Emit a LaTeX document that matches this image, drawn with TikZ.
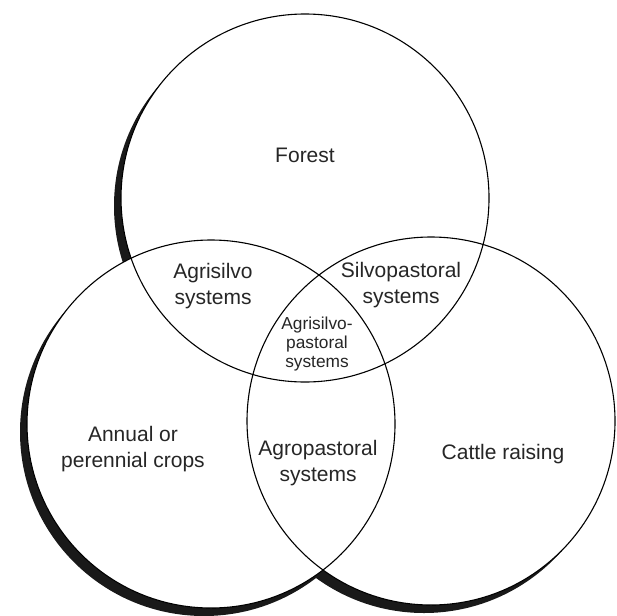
\documentclass[tikz,border=0pt]{standalone}
\usepackage{fontspec}
\setmainfont{Liberation Sans}
\usetikzlibrary{positioning}
\tikzset{
  % Venn circles
  ring/.style={draw=black,line width=1.1pt},
  ring fill/.style={fill=white},
  ring shadow/.style={fill=black!90},
  % labels
  label big/.style={align=center,font=\fontsize{21}{26}\selectfont,inner sep=0pt,text=black!85},
  label small/.style={align=center,font=\fontsize{17.3}{19}\selectfont,inner sep=0pt,text=black!85}
}

\begin{document}
\begin{tikzpicture}[x=1pt,y=-1pt]
    \useasboundingbox (0,0) rectangle (617,615);
    % shadows first, then white discs, then outlines
    \foreach \cx/\cy in {305/198, 431/421, 211/424}
      \fill[ring shadow] ([shift={(-7,8)}]\cx,\cy) circle [radius=184];
    \foreach \cx/\cy in {305/198, 431/421, 211/424}
      \fill[ring fill] (\cx,\cy) circle [radius=184];
    \foreach \cx/\cy in {305/198, 431/421, 211/424}
      \draw[ring] (\cx,\cy) circle [radius=184];
    % labels
    \node[label big] (forest) at (305,155) {Forest};
    \node[label big] (agrisilvo) at (213,286) {Agrisilvo\\systems};
    \node[label big] (silvopast) at (401,285) {Silvopastoral\\systems};
    \node[label small] (agrisilvopast) at (317,344) {Agrisilvo-\\pastoral\\systems};
    \node[label big] (crops) at (133,449) {Annual or\\perennial crops};
    \node[label big] (agropast) at (318,463) {Agropastoral\\systems};
    \node[label big] (cattle) at (503,454) {Cattle raising};
\end{tikzpicture}
\end{document}
